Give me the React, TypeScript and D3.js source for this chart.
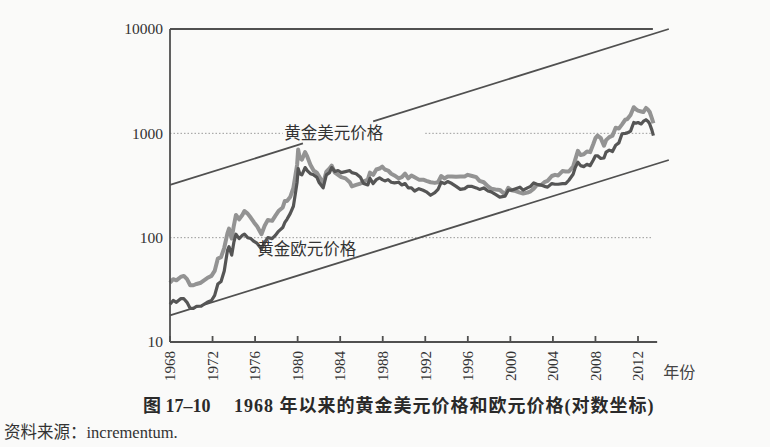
import React, { useEffect, useRef } from 'react';
import * as d3 from 'd3';

// 美元金价（浅灰），年份为小数年
const usdYears = [
  1968.0, 1968.3, 1968.6, 1969.0, 1969.3, 1969.6, 1969.9, 1970.2, 1970.5, 1970.9,
  1971.2, 1971.5, 1971.9, 1972.2, 1972.5, 1972.8, 1973.1, 1973.4, 1973.55, 1973.8,
  1974.0, 1974.2, 1974.5, 1974.8, 1975.0, 1975.3, 1975.6, 1975.9, 1976.2, 1976.6,
  1976.9, 1977.2, 1977.6, 1977.9, 1978.2, 1978.6, 1978.8, 1979.0, 1979.3, 1979.6,
  1979.8, 1979.95, 1980.05, 1980.2, 1980.4, 1980.7, 1980.9, 1981.2, 1981.5, 1981.8,
  1982.0, 1982.4, 1982.7, 1983.0, 1983.2, 1983.5, 1983.8, 1984.1, 1984.5, 1984.9,
  1985.1, 1985.5, 1985.9, 1986.2, 1986.6, 1986.8, 1987.1, 1987.4, 1987.7, 1987.95,
  1988.2, 1988.5, 1988.8, 1989.1, 1989.5, 1989.8, 1990.1, 1990.4, 1990.7, 1991.0,
  1991.4, 1991.8, 1992.1, 1992.5, 1992.9, 1993.2, 1993.5, 1993.8, 1994.1, 1994.5,
  1994.9, 1995.3, 1995.7, 1996.0, 1996.4, 1996.8, 1997.1, 1997.5, 1997.9, 1998.2,
  1998.6, 1999.0, 1999.5, 1999.8, 2000.1, 2000.5, 2000.9, 2001.2, 2001.6, 2001.9,
  2002.2, 2002.5, 2002.9, 2003.2, 2003.5, 2003.9, 2004.2, 2004.5, 2004.9, 2005.2,
  2005.5, 2005.9, 2006.1, 2006.35, 2006.6, 2006.9, 2007.2, 2007.5, 2007.8, 2008.0,
  2008.2, 2008.5, 2008.8, 2009.0, 2009.3, 2009.6, 2009.9, 2010.2, 2010.5, 2010.8,
  2011.0, 2011.3, 2011.6, 2011.8, 2012.0, 2012.3, 2012.5, 2012.75, 2012.95, 2013.1,
  2013.3, 2013.45,
];
const usdPrice = [
  37, 40, 39, 42, 43, 40, 35, 35, 36, 37,
  39, 41, 43, 48, 63, 65, 80, 110, 122, 98,
  130, 165, 150, 165, 180, 170, 155, 140, 128, 108,
  130, 148, 145, 162, 180, 195, 225, 225, 245, 300,
  400, 500, 700, 580, 560, 660, 600, 500, 440, 420,
  390, 330, 430, 460, 490, 420, 400, 380, 370, 340,
  310, 320, 330, 345, 360, 420, 400, 450, 460, 480,
  450, 440, 410, 395, 370, 380, 410, 370, 395, 380,
  360, 360, 350, 340, 335, 340, 390, 370, 385, 385,
  383, 385, 385, 400, 390, 380, 350, 340, 310, 295,
  290, 287, 260, 300, 285, 280, 270, 265, 270, 278,
  295, 320, 320, 340, 350, 390, 400, 395, 435, 430,
  430, 480, 560, 680, 620, 630, 670, 660, 790, 900,
  950, 900, 760, 860, 920, 950, 1130, 1110, 1220, 1350,
  1370, 1500, 1780, 1700, 1650, 1620, 1600, 1750, 1680, 1600,
  1400, 1250,
];

// 欧元金价（深灰）
const eurYears = usdYears;
const eurPrice = [
  23, 25, 24, 26, 26, 24, 21, 21, 22, 22,
  23, 24, 25, 28, 36, 38, 48, 75, 82, 68,
  90, 108, 98, 105, 108, 100, 98, 92, 88, 78,
  90, 100, 98, 105, 115, 125, 140, 150, 170, 200,
  270, 340, 460, 410, 400, 470, 440, 410, 400, 380,
  340, 300, 400, 420, 470, 430, 440, 420, 430, 440,
  420, 410, 380, 330, 320, 370, 330, 360, 375, 360,
  350, 360, 340, 335, 340, 320, 330, 300, 300, 280,
  295, 285, 275, 255, 270, 290, 340, 330, 345, 330,
  310, 290, 295, 310, 310, 300, 290, 300, 280, 275,
  260, 245, 250, 285, 285, 295, 305, 285, 300, 310,
  335, 325, 320, 310, 305, 330, 325, 325, 330, 330,
  355, 405, 470, 530, 490, 480, 505, 490, 555, 610,
  610, 575, 580, 660, 690, 670, 770, 810, 990, 1000,
  1010, 1050, 1270, 1250, 1270, 1230, 1300, 1350, 1300, 1230,
  1080, 950,
];

// 趋势通道（起点、终点）
const trendYears = [1968, 2014.9];
const upperTrend = [320, 10000];
const lowerTrend = [18, 555];
const upperTrendGap = [1980.5, 1987.1];
const gridGap1000 = [1978.6, 1992.0];

const yTicks = [10, 100, 1000, 10000];
const xTicks = d3.range(1968, 2013, 4);
const axisEndYear = 2013.8;
const topEndYear = 2013.4;

const serif = "'Liberation Serif', 'Noto Sans CJK SC', serif";

const App: React.FC = () => {
  const svgRef = useRef<SVGSVGElement | null>(null);

  useEffect(() => {
    if (!svgRef.current) return;
    const svg = d3.select(svgRef.current);
    svg.selectAll('*').remove();

    const x = d3.scaleLinear().domain([1968, 2012]).range([170, 638]);
    const y = d3.scaleLog().domain([10, 10000]).range([342, 29]);

    svg.append('rect').attr('width', 770).attr('height', 447).attr('fill', '#fafaf9');

    // 网格线（虚线）
    const grid = svg.append('g').attr('stroke', '#9a9a9a').attr('stroke-width', 1).attr('stroke-dasharray', '1.5,2');
    grid.append('line')
      .attr('x1', x(1968)).attr('x2', x(gridGap1000[0]))
      .attr('y1', y(1000)).attr('y2', y(1000));
    grid.append('line')
      .attr('x1', x(gridGap1000[1])).attr('x2', x(topEndYear))
      .attr('y1', y(1000)).attr('y2', y(1000));
    grid.append('line')
      .attr('x1', x(1968)).attr('x2', x(topEndYear))
      .attr('y1', y(100)).attr('y2', y(100));

    // 顶部 10000 实线
    svg.append('line')
      .attr('x1', x(1968)).attr('x2', x(topEndYear))
      .attr('y1', y(10000)).attr('y2', y(10000))
      .attr('stroke', '#505050').attr('stroke-width', 1.8);

    // 趋势线：对数坐标下的直线
    const trendAt = (vals: number[], yr: number) => {
      const t = (yr - trendYears[0]) / (trendYears[1] - trendYears[0]);
      return Math.pow(10, Math.log10(vals[0]) + t * (Math.log10(vals[1]) - Math.log10(vals[0])));
    };
    const trendSeg = (vals: number[], a: number, b: number) => {
      svg.append('line')
        .attr('x1', x(a)).attr('y1', y(trendAt(vals, a)))
        .attr('x2', x(b)).attr('y2', y(trendAt(vals, b)))
        .attr('stroke', '#505050').attr('stroke-width', 1.8);
    };
    trendSeg(upperTrend, trendYears[0], upperTrendGap[0]);
    trendSeg(upperTrend, upperTrendGap[1], trendYears[1]);
    trendSeg(lowerTrend, trendYears[0], trendYears[1]);

    // 价格线
    const line = d3.line<[number, number]>()
      .x((d) => x(d[0]))
      .y((d) => y(d[1]));

    const usd: [number, number][] = usdYears.map((yr, i) => [yr, usdPrice[i]]);
    const eur: [number, number][] = eurYears.map((yr, i) => [yr, eurPrice[i]]);

    svg.append('path')
      .datum(usd)
      .attr('d', line)
      .attr('fill', 'none')
      .attr('stroke', '#939393')
      .attr('stroke-width', 4)
      .attr('stroke-linejoin', 'round');
    svg.append('path')
      .datum(eur)
      .attr('d', line)
      .attr('fill', 'none')
      .attr('stroke', '#555')
      .attr('stroke-width', 3.2)
      .attr('stroke-linejoin', 'round');

    // 坐标轴
    const axis = svg.append('g').attr('stroke', '#505050').attr('stroke-width', 1.8);
    axis.append('line')
      .attr('x1', x(1968)).attr('x2', x(1968))
      .attr('y1', y(10000)).attr('y2', y(10));
    axis.append('line')
      .attr('x1', x(1968)).attr('x2', x(axisEndYear))
      .attr('y1', y(10)).attr('y2', y(10));
    axis.selectAll('.tick')
      .data(xTicks)
      .enter()
      .append('line')
      .attr('x1', (d) => x(d)).attr('x2', (d) => x(d))
      .attr('y1', y(10)).attr('y2', y(10) - 6);

    // Y 轴标签
    svg.selectAll('.ylab')
      .data(yTicks)
      .enter()
      .append('text')
      .attr('x', x(1968) - 7)
      .attr('y', (d) => y(d))
      .attr('dy', '0.35em')
      .attr('text-anchor', 'end')
      .attr('font-family', serif)
      .attr('font-size', 15.5)
      .attr('fill', '#333')
      .text((d) => d);

    // X 轴标签（竖排）
    svg.selectAll('.xlab')
      .data(xTicks)
      .enter()
      .append('text')
      .attr('transform', (d) => `translate(${x(d)},${y(10) + 9}) rotate(-90)`)
      .attr('dy', '0.35em')
      .attr('text-anchor', 'end')
      .attr('font-family', serif)
      .attr('font-size', 15)
      .attr('fill', '#333')
      .text((d) => d);

    svg.append('text')
      .attr('x', x(axisEndYear) + 6)
      .attr('y', 378)
      .attr('font-family', serif)
      .attr('font-size', 16)
      .attr('fill', '#444')
      .text('年份');

    // 系列标签
    svg.append('text')
      .attr('x', x(1978.75))
      .attr('y', y(1000))
      .attr('dy', '0.35em')
      .attr('font-family', serif)
      .attr('font-size', 16.5)
      .attr('fill', '#333')
      .text('黄金美元价格');
    svg.append('text')
      .attr('x', x(1976.2))
      .attr('y', 249)
      .attr('dy', '0.35em')
      .attr('font-family', serif)
      .attr('font-size', 16.5)
      .attr('fill', '#333')
      .text('黄金欧元价格');

    // 图题与来源
    svg.append('text')
      .attr('x', 143)
      .attr('y', 412)
      .attr('font-family', serif)
      .attr('font-size', 18)
      .attr('font-weight', 'bold')
      .attr('fill', '#2a2a2a')
      .text('图 17–10');
    svg.append('text')
      .attr('x', 234)
      .attr('y', 412)
      .attr('font-family', serif)
      .attr('font-size', 18)
      .attr('letter-spacing', 1)
      .attr('font-weight', 'bold')
      .attr('fill', '#2a2a2a')
      .text('1968 年以来的黄金美元价格和欧元价格(对数坐标)');
    svg.append('text')
      .attr('x', 4)
      .attr('y', 438)
      .attr('font-family', serif)
      .attr('font-size', 16.5)
      .attr('fill', '#333')
      .text('资料来源：incrementum.');
  }, []);

  return (
    <svg
      ref={svgRef}
      width={770}
      height={447}
      style={{ position: 'absolute', left: 0, top: 0 }}
    />
  );
};

export default App;
